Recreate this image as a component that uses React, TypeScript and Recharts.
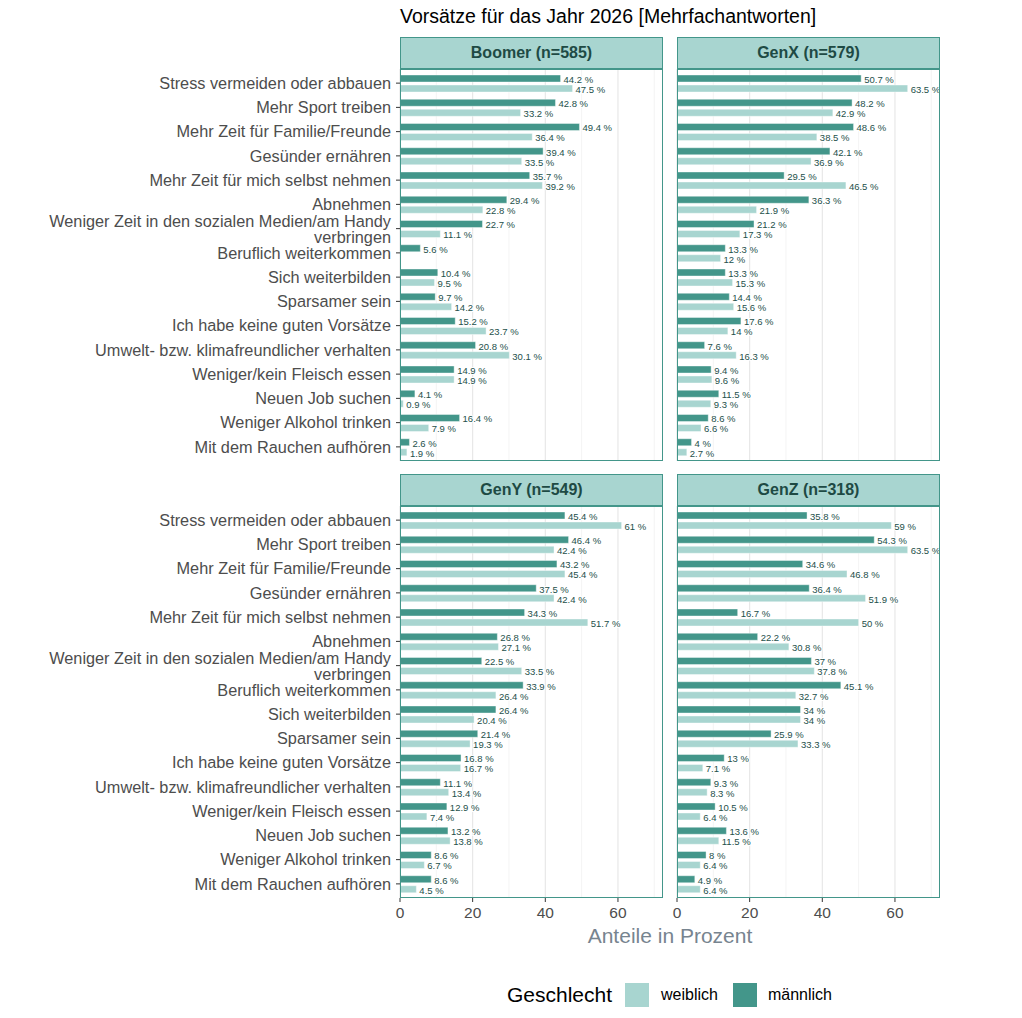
import React from "react";
import { BarChart, Bar, XAxis, YAxis, CartesianGrid, LabelList } from "recharts";

const categories = [
  "Stress vermeiden oder abbauen",
  "Mehr Sport treiben",
  "Mehr Zeit für Familie/Freunde",
  "Gesünder ernähren",
  "Mehr Zeit für mich selbst nehmen",
  "Abnehmen",
  "Weniger Zeit in den sozialen Medien/am Handy\nverbringen",
  "Beruflich weiterkommen",
  "Sich weiterbilden",
  "Sparsamer sein",
  "Ich habe keine guten Vorsätze",
  "Umwelt- bzw. klimafreundlicher verhalten",
  "Weniger/kein Fleisch essen",
  "Neuen Job suchen",
  "Weniger Alkohol trinken",
  "Mit dem Rauchen aufhören",
];

// männlich / weiblich per generation (Anteile in %)
const boomerMale = [44.2, 42.8, 49.4, 39.4, 35.7, 29.4, 22.7, 5.6, 10.4, 9.7, 15.2, 20.8, 14.9, 4.1, 16.4, 2.6];
const boomerFemale = [47.5, 33.2, 36.4, 33.5, 39.2, 22.8, 11.1, 0, 9.5, 14.2, 23.7, 30.1, 14.9, 0.9, 7.9, 1.9];

const genXMale = [50.7, 48.2, 48.6, 42.1, 29.5, 36.3, 21.2, 13.3, 13.3, 14.4, 17.6, 7.6, 9.4, 11.5, 8.6, 4];
const genXFemale = [63.5, 42.9, 38.5, 36.9, 46.5, 21.9, 17.3, 12, 15.3, 15.6, 14, 16.3, 9.6, 9.3, 6.6, 2.7];

const genYMale = [45.4, 46.4, 43.2, 37.5, 34.3, 26.8, 22.5, 33.9, 26.4, 21.4, 16.8, 11.1, 12.9, 13.2, 8.6, 8.6];
const genYFemale = [61, 42.4, 45.4, 42.4, 51.7, 27.1, 33.5, 26.4, 20.4, 19.3, 16.7, 13.4, 7.4, 13.8, 6.7, 4.5];

const genZMale = [35.8, 54.3, 34.6, 36.4, 16.7, 22.2, 37, 45.1, 34, 25.9, 13, 9.3, 10.5, 13.6, 8, 4.9];
const genZFemale = [59, 63.5, 46.8, 51.9, 50, 30.8, 37.8, 32.7, 34, 33.3, 7.1, 8.3, 6.4, 11.5, 6.4, 6.4];

const xTicks = [0, 20, 40, 60];
const gridMinor = [10, 30, 50, 70];

const DARK = "#43968a";
const LIGHT = "#a8d5d0";
const STRIP_TEXT = "#1e4a44";
const LABEL_TEXT = "#24504a";
const AXIS_TEXT = "#4d4d4d";
const FONT = "'Liberation Sans', Arial, Helvetica, sans-serif";

const panels = [
  { title: "Boomer (n=585)", male: boomerMale, female: boomerFemale, col: 0, row: 0 },
  { title: "GenX (n=579)", male: genXMale, female: genXFemale, col: 1, row: 0 },
  { title: "GenY (n=549)", male: genYMale, female: genYFemale, col: 0, row: 1 },
  { title: "GenZ (n=318)", male: genZMale, female: genZFemale, col: 1, row: 1 },
];

const PANEL_X = [400, 677];
const PANEL_W = 263;
const STRIP_Y = [37, 474];
const STRIP_H = 32;
const BODY_H = 392;
const AXIS_W = 400;
const RIGHT_PAD = 20; // room left of the right-hand panels for the "0" tick label
const X_AXIS_H = 34;

const CatTick = (props: any) => {
  const { x, y, payload } = props;
  const lines = String(payload.value).split("\n");
  const common = { textAnchor: "end" as const, fontSize: 16.3, fill: AXIS_TEXT, fontFamily: FONT };
  if (lines.length === 1) {
    return (
      <text x={x - 3} y={y} dy="0.35em" {...common}>
        {lines[0]}
      </text>
    );
  }
  return (
    <g>
      <text x={x - 3} y={y - 7.5} dy="0.35em" {...common}>
        {lines[0]}
      </text>
      <text x={x - 3} y={y + 9} dy="0.35em" {...common}>
        {lines[1]}
      </text>
    </g>
  );
};

const valueLabel = (props: any) => {
  const { x, y, width, height, value } = props;
  return (
    <text
      x={x + width + 3}
      y={y + height / 2 + 1}
      dy="0.35em"
      fontSize={9.5}
      fill={LABEL_TEXT}
      fontFamily={FONT}
      stroke="#fff"
      strokeWidth={2}
      paintOrder="stroke"
    >
      {value} %
    </text>
  );
};

function Panel({ p }: { p: (typeof panels)[number] }) {
  const data = categories.map((c, i) => ({ cat: c, m: p.male[i], w: p.female[i] }));
  const isLeft = p.col === 0;
  const left = isLeft ? 0 : PANEL_X[1] - RIGHT_PAD;
  const width = (isLeft ? AXIS_W : RIGHT_PAD) + PANEL_W;
  const showX = p.row === 1;
  const bodyTop = STRIP_Y[p.row] + STRIP_H;
  const height = BODY_H + (showX ? X_AXIS_H : 0);
  return (
    <>
      <div
        style={{
          position: "absolute",
          left: PANEL_X[p.col],
          top: STRIP_Y[p.row],
          width: PANEL_W,
          height: STRIP_H,
          boxSizing: "border-box",
          background: LIGHT,
          border: `1px solid ${DARK}`,
          color: STRIP_TEXT,
          fontWeight: "bold",
          fontSize: 16,
          display: "flex",
          alignItems: "center",
          justifyContent: "center",
        }}
      >
        {p.title}
      </div>
      <div style={{ position: "absolute", left, top: bodyTop }}>
        <BarChart
          width={width}
          height={height}
          data={data}
          layout="vertical"
          margin={{ top: 0, right: 0, bottom: 0, left: isLeft ? 0 : RIGHT_PAD }}
          barSize={7}
          barGap={3}
        >
          <CartesianGrid horizontal={false} verticalValues={gridMinor} stroke="#ececec" strokeWidth={0.6} />
          <CartesianGrid horizontal={false} verticalValues={xTicks} stroke="#e6e6e6" strokeWidth={1.1} />
          <XAxis
            type="number"
            domain={[0, 72.4]}
            ticks={xTicks}
            interval={0}
            hide={!showX}
            height={X_AXIS_H}
            axisLine={false}
            tickLine={{ stroke: "#333" }}
            tickSize={4}
            tickMargin={5}
            tick={{ fill: AXIS_TEXT, fontSize: 15.5, fontFamily: FONT }}
            allowDataOverflow
          />
          <YAxis
            type="category"
            dataKey="cat"
            width={isLeft ? AXIS_W : 0}
            hide={!isLeft}
            axisLine={false}
            tickLine={{ stroke: "#333" }}
            tickSize={4}
            interval={0}
            padding={{ top: 2, bottom: 2 }}
            tick={<CatTick />}
          />
          <Bar dataKey="m" fill={DARK} stroke="#fff" strokeWidth={0.4} isAnimationActive={false}>
            <LabelList dataKey="m" content={valueLabel} />
          </Bar>
          <Bar dataKey="w" fill={LIGHT} stroke="#fff" strokeWidth={0.4} isAnimationActive={false}>
            <LabelList dataKey="w" content={valueLabel} />
          </Bar>
        </BarChart>
      </div>
      <div
        style={{
          position: "absolute",
          left: PANEL_X[p.col],
          top: bodyTop,
          width: PANEL_W,
          height: BODY_H,
          boxSizing: "border-box",
          border: `1px solid ${DARK}`,
          pointerEvents: "none",
        }}
      />
    </>
  );
}

export default function App() {
  return (
    <div
      style={{
        position: "absolute",
        left: 0,
        top: 0,
        width: 1022,
        height: 1018,
        background: "#fff",
        fontFamily: FONT,
        overflow: "hidden",
      }}
    >
      <div style={{ position: "absolute", left: 400, top: 5, fontSize: 19.5, color: "#000", whiteSpace: "nowrap" }}>
        Vorsätze für das Jahr 2026 [Mehrfachantworten]
      </div>
      {panels.map((p) => (
        <Panel key={p.title} p={p} />
      ))}
      <div
        style={{
          position: "absolute",
          left: 400,
          width: 540,
          top: 924,
          textAlign: "center",
          fontSize: 21,
          color: "#77848f",
        }}
      >
        Anteile in Prozent
      </div>
      <div style={{ position: "absolute", left: 507, top: 983, height: 24, display: "flex", alignItems: "center" }}>
        <span style={{ fontSize: 21, color: "#000", marginRight: 13 }}>Geschlecht</span>
        <span style={{ width: 24, height: 24, background: LIGHT, display: "inline-block" }} />
        <span style={{ fontSize: 16, color: "#000", marginLeft: 12, marginRight: 15 }}>weiblich</span>
        <span style={{ width: 24, height: 24, background: DARK, display: "inline-block" }} />
        <span style={{ fontSize: 16, color: "#000", marginLeft: 11 }}>männlich</span>
      </div>
    </div>
  );
}
